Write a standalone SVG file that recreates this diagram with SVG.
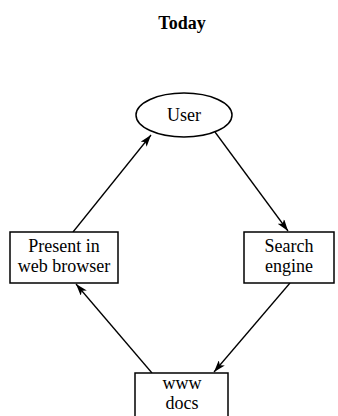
<svg xmlns="http://www.w3.org/2000/svg" width="338" height="416" viewBox="0 0 338 416">
<style>
.n{fill:#fff;stroke:#000;stroke-width:1.5}
.t{font-family:"Liberation Serif","Times New Roman",serif;font-size:18px;fill:#000;text-anchor:middle}
.title{font-family:"Liberation Serif","Times New Roman",serif;font-size:18px;font-weight:bold;fill:#000;text-anchor:middle}
.c{stroke:#000;stroke-width:1.3;fill:none;marker-end:url(#ah)}
</style>
<defs>
<marker id="ah" viewBox="0 0 12 8" refX="12" refY="4" markerWidth="12" markerHeight="8" markerUnits="userSpaceOnUse" orient="auto">
<path d="M0,0 L12,4 L0,8 L3,4 Z" fill="#000"/>
</marker>
</defs>
<rect width="338" height="416" fill="#fff"/>
<text class="title" x="182" y="29">Today</text>
<g id="connectors">
<line class="c" x1="73" y1="232" x2="151" y2="135"/>
<line class="c" x1="215" y1="132" x2="288" y2="231"/>
<line class="c" x1="290" y1="283" x2="214" y2="372"/>
<line class="c" x1="152" y1="373" x2="76" y2="284"/>
</g>
<g id="user">
<ellipse class="n" cx="184" cy="115" rx="48" ry="22"/>
<text class="t" x="184" y="121">User</text>
</g>
<g id="present">
<rect class="n" x="10" y="232" width="108" height="51"/>
<text class="t" x="64" y="252">Present in</text>
<text class="t" x="64" y="272">web browser</text>
</g>
<g id="search">
<rect class="n" x="244" y="232" width="90" height="51"/>
<text class="t" x="289" y="252">Search</text>
<text class="t" x="289" y="272">engine</text>
</g>
<g id="www">
<rect class="n" x="135" y="373" width="93" height="52"/>
<text class="t" x="182" y="389">www</text>
<text class="t" x="182" y="409">docs</text>
</g>
</svg>
